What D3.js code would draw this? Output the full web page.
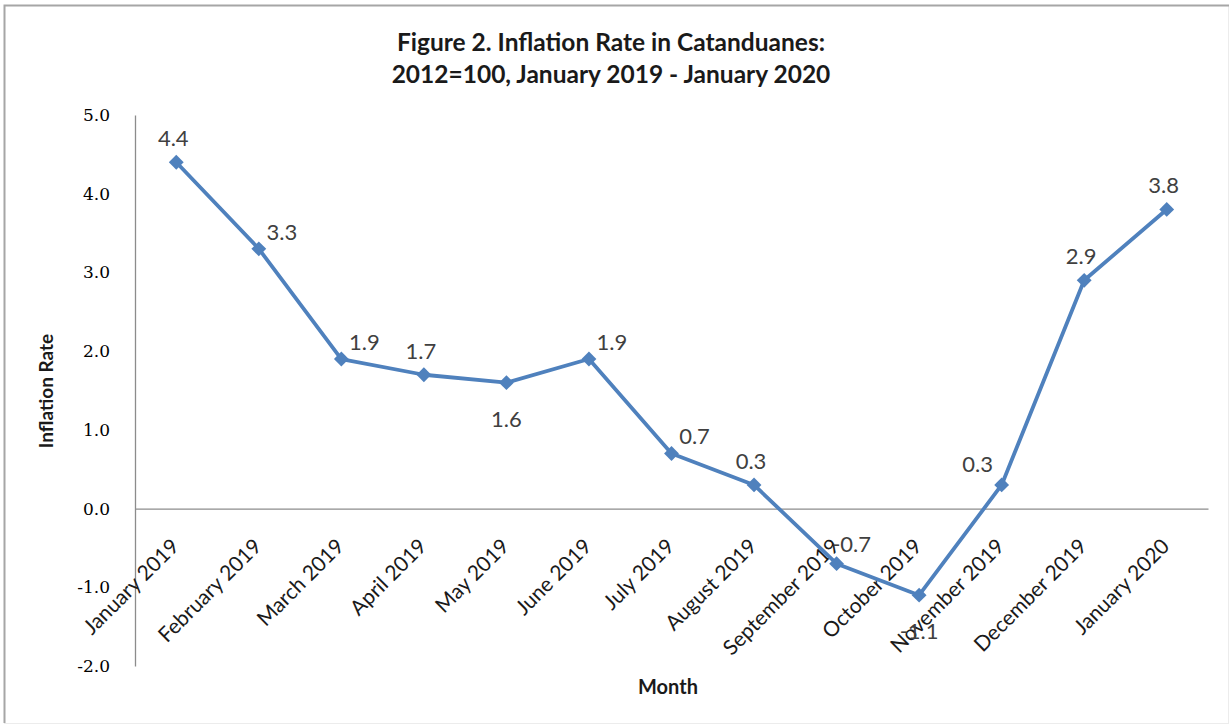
<!DOCTYPE html>
<html>
<head>
<meta charset="utf-8">
<script src="https://cdn.jsdelivr.net/npm/d3@7"></script>
<style>
  html, body { margin: 0; padding: 0; background: #fff; }
  svg { display: block; }
</style>
</head>
<body>
<script>
// ---- Data ----
const months = ["January 2019", "February 2019", "March 2019", "April 2019", "May 2019", "June 2019",
  "July 2019", "August 2019", "September 2019", "October 2019", "November 2019", "December 2019", "January 2020"];
const inflation = [4.4, 3.3, 1.9, 1.7, 1.6, 1.9, 0.7, 0.3, -0.7, -1.1, 0.3, 2.9, 3.8];
const labelPlacement = ["above", "right", "right", "above", "below", "right", "right", "above", "nearRight", "below", "aboveLeft", "above", "above"];
const yTicks = [-2, -1, 0, 1, 2, 3, 4, 5];
const titleLines = ["Figure 2. Inflation Rate in Catanduanes:", "2012=100, January 2019 - January 2020"];
const xTitle = "Month";
const yTitle = "Inflation Rate";

// ---- Layout ----
const W = 1231, H = 726;
const plot = { left: 135, right: 1208, top: 115, bottom: 666 };
const sans = "Lato, 'Open Sans', sans-serif";
const serif = "'DejaVu Serif', serif";
const blue = "#4F81BD";
const axisGray = "#8c8c8c";
const fmt = d3.formatLocale({ decimal: ".", thousands: ",", grouping: [3], currency: ["", ""], minus: "-" }).format(".1f");

const svg = d3.select("body").append("svg").attr("width", W).attr("height", H);

// outer border
svg.append("rect").attr("x", 4.5).attr("y", 5.5).attr("width", W - 7).attr("height", H - 8)
  .attr("fill", "#fff").attr("stroke", "#ececec").attr("stroke-width", 1);
svg.append("path").attr("d", `M4.5,${H - 3}V5.5H${W - 2}`).attr("fill", "none")
  .attr("stroke", "#a6a6a6").attr("stroke-width", 2);

const x = d3.scaleBand().domain(months).range([plot.left, plot.right]).padding(0);
const y = d3.scaleLinear().domain([-2, 5]).range([plot.bottom, plot.top]);
const cx = m => x(m) + x.bandwidth() / 2;

// y axis
const yAxis = svg.append("g").attr("transform", `translate(${plot.left},0)`)
  .call(d3.axisLeft(y).tickValues(yTicks).tickFormat(fmt).tickSize(0).tickPadding(25));
yAxis.select(".domain").attr("stroke", axisGray).attr("stroke-width", 1.3);
yAxis.selectAll("text").attr("font-family", serif).attr("font-size", 17).attr("fill", "#000");

// x axis at zero
const xAxis = svg.append("g").attr("transform", `translate(0,${y(0)})`)
  .call(d3.axisBottom(x).tickSize(0).tickPadding(0));
xAxis.select(".domain").attr("stroke", axisGray).attr("stroke-width", 1.3);
xAxis.selectAll(".tick text")
  .attr("font-family", sans).attr("font-size", 21).attr("fill", "#1a1a1a")
  .attr("text-anchor", "end").attr("dy", 0).attr("y", 0)
  .attr("transform", "translate(4,39) rotate(-45)");

// line
const line = d3.line().x((d, i) => cx(months[i])).y(d => y(d));
svg.append("path").datum(inflation).attr("d", line)
  .attr("fill", "none").attr("stroke", blue).attr("stroke-width", 3.8).attr("stroke-linejoin", "round");

// markers
const sym = d3.symbol().type(d3.symbolSquare).size(110);
svg.append("g").selectAll("path").data(inflation).join("path")
  .attr("d", sym)
  .attr("transform", (d, i) => `translate(${cx(months[i])},${y(d)}) rotate(45)`)
  .attr("fill", blue);

// data labels
const placeOffset = {
  above: [-3, -16],
  right: [23, -9],
  nearRight: [15, -12],
  below: [0, 44],
  aboveLeft: [-24, -13]
};
svg.append("g").selectAll("text").data(inflation).join("text")
  .attr("x", (d, i) => cx(months[i]) + placeOffset[labelPlacement[i]][0])
  .attr("y", (d, i) => y(d) + placeOffset[labelPlacement[i]][1])
  .attr("text-anchor", "middle")
  .attr("font-family", sans).attr("font-size", 22).attr("fill", "#404040")
  .text(d => fmt(d));

// title
svg.append("g").selectAll("text").data(titleLines).join("text")
  .attr("x", 611).attr("y", (d, i) => 51 + i * 32)
  .attr("text-anchor", "middle")
  .attr("font-family", sans).attr("font-weight", "bold").attr("font-size", 24.5).attr("fill", "#1a1a1a")
  .text(d => d);

// axis titles
svg.append("text").attr("x", 668).attr("y", 694).attr("text-anchor", "middle")
  .attr("font-family", sans).attr("font-weight", "bold").attr("font-size", 20).attr("fill", "#1a1a1a")
  .text(xTitle);
svg.append("text").attr("transform", "translate(53,391) rotate(-90)").attr("text-anchor", "middle")
  .attr("font-family", sans).attr("font-weight", "bold").attr("font-size", 19).attr("fill", "#1a1a1a")
  .text(yTitle);
</script>
</body>
</html>
